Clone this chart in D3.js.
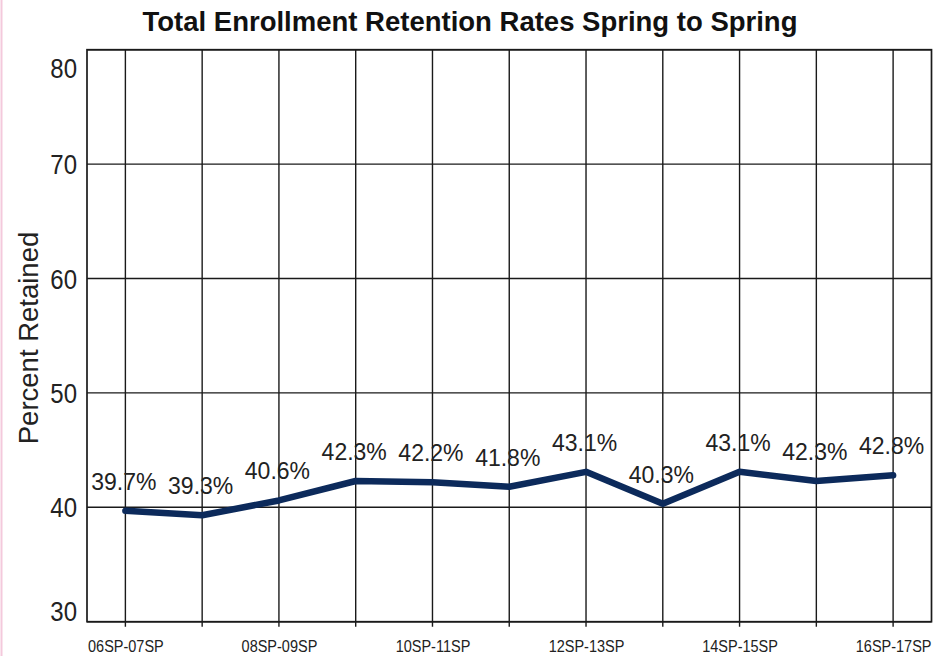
<!DOCTYPE html>
<html>
<head>
<meta charset="utf-8">
<script src="https://cdn.jsdelivr.net/npm/d3@7"></script>
<style>
  html, body { margin: 0; padding: 0; background: #fff; }
  svg { display: block; font-family: "Liberation Sans", Arial, Helvetica, sans-serif; }
</style>
</head>
<body>
<svg id="chart" width="947" height="656"></svg>
<script>
// Academic-year pairs (spring to spring)
const categories = ["06SP-07SP", "07SP-08SP", "08SP-09SP", "09SP-10SP", "10SP-11SP", "11SP-12SP",
                    "12SP-13SP", "13SP-14SP", "14SP-15SP", "15SP-16SP", "16SP-17SP"];
// Percent of students retained
const retained = [39.7, 39.3, 40.6, 42.3, 42.2, 41.8, 43.1, 40.3, 43.1, 42.3, 42.8];
// Y-axis tick values
const yTicks = [30, 40, 50, 60, 70, 80];
// Only every other category gets a text label on the x axis
const xLabelled = ["06SP-07SP", "08SP-09SP", "10SP-11SP", "12SP-13SP", "14SP-15SP", "16SP-17SP"];

const svg = d3.select("#chart");
const W = 947, H = 656;
const plot = { left: 87, right: 931.5, top: 49.7, bottom: 621.7 };
const ink = "#1a1a1a";

// faint pink frame edge on the left
svg.append("line").attr("x1", 1.5).attr("x2", 1.5).attr("y1", 0).attr("y2", H)
  .attr("stroke", "#f4c9dc").attr("stroke-width", 2);

const x = d3.scalePoint().domain(categories).range([plot.left, plot.right]).padding(0.5);
const y = d3.scaleLinear().domain([30, 80]).range([plot.bottom, plot.top]);

// Title
svg.append("text")
  .attr("x", 470).attr("y", 31)
  .attr("text-anchor", "middle")
  .attr("font-size", 27.5).attr("font-weight", "bold").attr("fill", "#111")
  .text("Total Enrollment Retention Rates Spring to Spring");

// Horizontal grid lines
svg.append("g")
  .selectAll("line").data(yTicks).join("line")
  .attr("x1", plot.left).attr("x2", plot.right)
  .attr("y1", d => y(d)).attr("y2", d => y(d))
  .attr("stroke", ink).attr("stroke-width", 1.4);

// Vertical grid lines, extending below the plot as tick marks
svg.append("g")
  .selectAll("line").data(categories).join("line")
  .attr("x1", d => x(d)).attr("x2", d => x(d))
  .attr("y1", plot.top).attr("y2", plot.bottom + 5)
  .attr("stroke", ink).attr("stroke-width", 1.4);

// Plot border
svg.append("rect")
  .attr("x", plot.left).attr("y", plot.top)
  .attr("width", plot.right - plot.left).attr("height", plot.bottom - plot.top)
  .attr("fill", "none").attr("stroke", ink).attr("stroke-width", 1.7);

// Y axis (labels only; the grid draws the lines). The end labels sit inside the frame.
const yAxis = svg.append("g")
  .attr("transform", `translate(${plot.left},0)`)
  .call(d3.axisLeft(y).tickValues(yTicks).tickSize(0).tickPadding(10));
yAxis.select(".domain").remove();
yAxis.selectAll(".tick text")
  .attr("font-size", 24).attr("fill", "#222")
  .attr("font-family", "'Liberation Sans', Arial, sans-serif")
  .attr("dy", null)
  .attr("y", d => d === 80 ? 15.5 : d === 30 ? -9.5 : 0)
  .attr("dominant-baseline", "central")
  .attr("transform", "scale(1,1.15)");

// X axis labels
const xAxis = svg.append("g")
  .attr("transform", `translate(0,${plot.bottom})`)
  .call(d3.axisBottom(x).tickValues(xLabelled).tickSize(0));
xAxis.select(".domain").remove();
xAxis.selectAll(".tick text")
  .attr("font-size", 14.5).attr("fill", "#222")
  .attr("font-family", "'Liberation Sans', Arial, sans-serif")
  .attr("y", 0).attr("dy", null)
  .attr("transform", "translate(0,30) scale(1,1.2)");

// Y axis title
svg.append("text")
  .attr("transform", `translate(38,338) rotate(-90)`)
  .attr("text-anchor", "middle")
  .attr("font-size", 27.5).attr("fill", "#222")
  .text("Percent Retained");

// Retention line
const line = d3.line().x((d, i) => x(categories[i])).y(d => y(d));
svg.append("path")
  .datum(retained)
  .attr("d", line)
  .attr("fill", "none")
  .attr("stroke", "#0c2a5b")
  .attr("stroke-width", 6.5)
  .attr("stroke-linejoin", "round")
  .attr("stroke-linecap", "round");

// Value labels above each point
svg.append("g")
  .selectAll("text").data(retained).join("text")
  .attr("x", (d, i) => x(categories[i]) - 1.5)
  .attr("y", d => y(d) - 21)
  .attr("text-anchor", "middle")
  .attr("font-size", 23).attr("fill", "#222")
  .text(d => d.toFixed(1) + "%");
</script>
</body>
</html>
